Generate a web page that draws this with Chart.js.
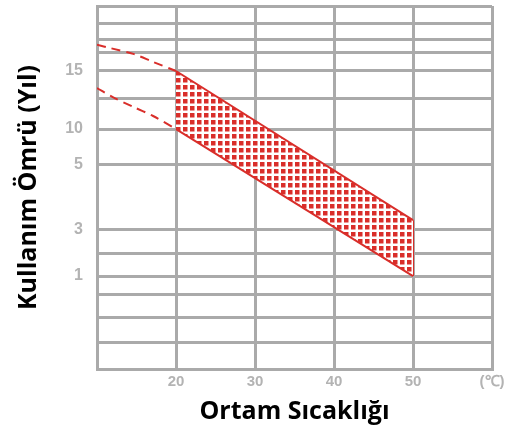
<!DOCTYPE html>
<html>
<head>
<meta charset="utf-8">
<script src="https://cdn.jsdelivr.net/npm/chart.js@4/dist/chart.umd.min.js"></script>
<style>
    html, body { margin: 0; padding: 0; background: #fff; }
    #wrap { width: 511px; height: 432px; }
</style>
</head>
<body>
<div id="wrap"><canvas id="life-chart"></canvas></div>
<script>
// --- Data ----------------------------------------------------------------

// x: ambient temperature (°C)
const xTickValues = [10, 20, 30, 40, 50, 60];
const xTickLabels = ['', '20', '30', '40', '50', '(℃)'];

// y: the chart's life axis is not uniform, so positions are on a 0-100 track
const yGridPos = [0, 7.2, 14.3, 20.4, 25.6, 31.7, 38.3, 56.2, 66.1, 74.4, 82.1, 87.1, 90.9, 95.3, 100];
const yGridLabels = ['', '', '', '', '1', '', '3', '5', '10', '', '15', '', '', '', ''];

// shaded lifetime band between 20 and 50 °C
const bandTemps = [20, 50];
const bandUpper = [82.1, 41.0];
const bandLower = [66.1, 25.6];

// dashed extrapolation below 20 °C
const dashTempsUpper = [10, 11.7, 14.6, 17.1, 20];
const dashUpper = [89.3, 88.4, 86.8, 84.6, 82.1];
const dashTempsLower = [10, 12, 14.6, 17.1, 20];
const dashLower = [77.4, 74.9, 72.2, 69.7, 66.1];

// --- Styles --------------------------------------------------------------

const RED = '#d92e2a';
const GRID = '#aaaaaa';
const TICK = '#b3b3b3';

function makePattern() {
    const c = document.createElement('canvas');
    c.width = 7;
    c.height = 7;
    const g = c.getContext('2d');
    g.fillStyle = '#ffffff';
    g.fillRect(0, 0, 7, 7);
    g.fillStyle = RED;
    g.fillRect(1, 1, 4.5, 4.5);
    return g.createPattern(c, 'repeat');
}

const toPoints = (xs, ys) => xs.map((x, i) => ({ x, y: ys[i] }));

const dashed = (xs, ys) => ({
    data: toPoints(xs, ys),
    borderColor: RED,
    borderWidth: 2,
    borderDash: [9, 6],
    pointRadius: 0,
    tension: 0.3,
    fill: false,
});

// --- Chart ---------------------------------------------------------------

new Chart(document.getElementById('life-chart'), {
    type: 'line',
    data: {
        datasets: [
            {
                data: toPoints(bandTemps, bandLower),
                borderColor: RED,
                borderWidth: 2,
                pointRadius: 0,
                fill: false,
            },
            {
                data: toPoints(bandTemps, bandUpper),
                borderColor: RED,
                borderWidth: 2,
                pointRadius: 0,
                fill: { target: 0 },
                backgroundColor: makePattern(),
            },
            dashed(dashTempsUpper, dashUpper),
            dashed(dashTempsLower, dashLower),
            {
                // right edge of the band at 50 °C
                data: [{ x: 50, y: bandLower[1] }, { x: 50, y: bandUpper[1] }],
                borderColor: RED,
                borderWidth: 2,
                pointRadius: 0,
                fill: false,
            },
        ],
    },
    options: {
        responsive: true,
        maintainAspectRatio: false,
        animation: false,
        layout: { padding: { left: 0, top: 6, right: 19, bottom: 0 } },
        plugins: {
            legend: { display: false },
            tooltip: { enabled: false },
        },
        scales: {
            x: {
                type: 'linear',
                min: 10,
                max: 60,
                afterBuildTicks: (axis) => {
                    axis.ticks = xTickValues.map((v) => ({ value: v }));
                },
                afterFit: (axis) => {
                    axis.height = 63;
                    axis.paddingLeft = 0;
                    axis.paddingRight = 0;
                },
                ticks: {
                    color: TICK,
                    font: { family: 'Liberation Sans', size: 15, weight: 'bold' },
                    padding: 4,
                    maxRotation: 0,
                    callback: (v) => xTickLabels[xTickValues.indexOf(v)] ?? '',
                },
                grid: { color: GRID, lineWidth: 3, drawTicks: false },
                border: { color: GRID, width: 3 },
                title: {
                    display: true,
                    text: 'Ortam Sıcaklığı',
                    color: '#000',
                    font: { family: 'Open Sans', size: 25, weight: 'bold' },
                    padding: { top: 0, bottom: 5 },
                },
            },
            y: {
                type: 'linear',
                min: 0,
                max: 100,
                afterBuildTicks: (axis) => {
                    axis.ticks = yGridPos.map((v) => ({ value: v }));
                },
                afterFit: (axis) => {
                    axis.width = 97;
                    axis.paddingTop = 0;
                    axis.paddingBottom = 0;
                },
                ticks: {
                    color: TICK,
                    font: { family: 'Liberation Sans', size: 16, weight: 'bold' },
                    padding: 14,
                    callback: (v) => yGridLabels[yGridPos.indexOf(v)] ?? '',
                },
                grid: { color: GRID, lineWidth: 3, drawTicks: false },
                border: { color: GRID, width: 3 },
                title: {
                    display: true,
                    text: 'Kullanım Ömrü (Yıl)',
                    color: '#000',
                    font: { family: 'Open Sans', size: 25, weight: 'bold' },
                    padding: { top: 14, bottom: 0 },
                },
            },
        },
    },
});
</script>
</body>
</html>
